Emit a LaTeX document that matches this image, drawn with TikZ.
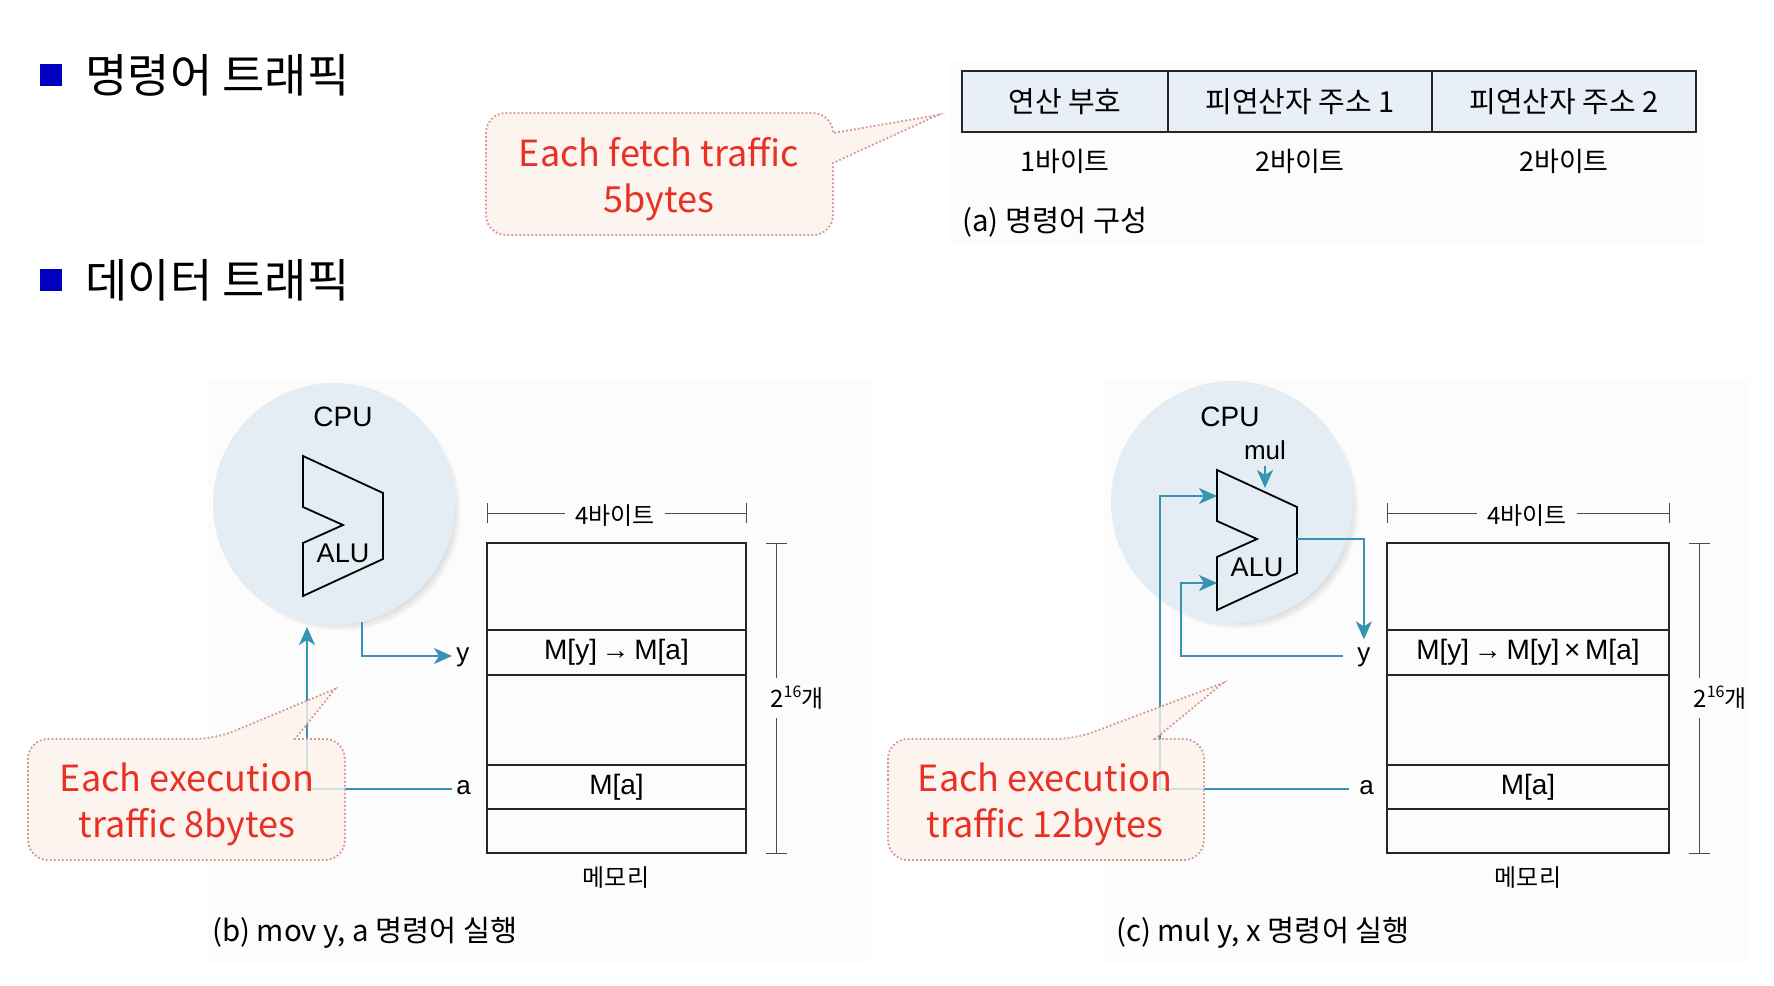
\documentclass[tikz,border=0pt]{standalone}
\usepackage{fontspec}
\setmainfont{Noto Sans CJK KR}
\newfontfamily\hv{Liberation Sans}
\usetikzlibrary{arrows.meta,shadows,calc}

\definecolor{bulletblue}{RGB}{0,0,190}
\definecolor{callred}{RGB}{233,48,36}
\definecolor{callfill}{RGB}{252,242,234}
\definecolor{calldot}{RGB}{213,150,150}
\definecolor{flowteal}{RGB}{55,147,180}
\definecolor{cellfill}{RGB}{232,239,246}
\definecolor{cpufill}{RGB}{228,237,243}
\definecolor{panelbg}{RGB}{252,252,252}

\tikzset{
  bulletsq/.style={fill=bulletblue, minimum size=11pt, inner sep=0pt},
  header/.style={anchor=west, font=\fontsize{23}{27}\selectfont, inner sep=0pt},
  cell/.style={draw=black!85, line width=0.9pt, fill=cellfill, minimum height=30.5pt, inner sep=0pt, font=\fontsize{14.5}{16}\selectfont},
  figtxt/.style={font=\fontsize{13.5}{15}\selectfont, inner sep=1pt},
  smalltxt/.style={font=\fontsize{12}{14}\selectfont, inner sep=1pt},
  captxt/.style={font=\fontsize{14.7}{17}\selectfont, inner sep=0pt},
  callshape/.style={draw=calldot, fill=callfill, line width=0.9pt, dash pattern=on 0.9pt off 1.1pt, fill opacity=0.8},
  calltxt/.style={text=callred, align=center, font=\fontsize{18}{23}\selectfont},
  cpu/.style={circle, fill=cpufill, minimum size=121pt, inner sep=0pt,
    circular drop shadow={shadow xshift=3pt, shadow yshift=-3pt, shadow scale=1.0, opacity=0.5}},
  latin/.style={font=\hv\fontsize{13}{15}\selectfont, inner sep=0pt},
  flow/.style={draw=flowteal, line width=1pt, -{Stealth[length=9pt, width=8pt, inset=2.5pt]}},
  memrow/.style={draw=black!85, line width=1pt, inner sep=0pt, font=\hv\fontsize{14}{16}\selectfont},
  dim/.style={draw=black!70, line width=0.5pt},
  lbl/.style={font=\hv\fontsize{13}{15}\selectfont, anchor=west, inner sep=2pt, text height=0.52em, text depth=0pt},
  alu/.pic={
    \draw[line width=0.9pt, line join=miter] (0,0) coordinate (-tl) -- (80,37) -- (80,103) -- (0,140) -- (0,87) -- (40,69) -- (0,51) -- cycle;
    \coordinate (-in1) at (0,26);
    \coordinate (-in2) at (0,113);
    \coordinate (-out) at (80,69);
    \coordinate (-top) at (48,18);
    \node[font=\hv\fontsize{13.5}{15}\selectfont, inner sep=0pt] (-lbl) at (40,97) {ALU};
  },
}

\begin{document}
\begin{tikzpicture}[x=0.5pt,y=-0.5pt]
\useasboundingbox[fill=white] (0,0) rectangle (1774,986);

% faint image panels
\fill[panelbg] (950,62) rectangle (1705,243);
\fill[panelbg] (207,379) rectangle (871,962);
\fill[panelbg] (1103,379) rectangle (1748,962);

% headers
\node[bulletsq] (sq1) at (51,75) {};
\node[header] (h1) at (85,75) {명령어 트래픽};
\node[bulletsq] (sq2) at (51,280) {};
\node[header] (h2) at (85,280) {데이터 트래픽};

% (a) instruction format
\node[cell, minimum width=103pt] (opc) at (1065,101.5) {연산 부호};
\node[cell, minimum width=132pt] (ad1) at (1300,101.5) {피연산자 주소 1};
\node[cell, minimum width=132pt] (ad2) at (1564,101.5) {피연산자 주소 2};
\node[figtxt] (by1) at (1065,161) {1바이트};
\node[figtxt] (by2) at (1300,161) {2바이트};
\node[figtxt] (by3) at (1564,161) {2바이트};
\node[captxt, anchor=west] (capa) at (962,222) {(a) 명령어 구성};

% callout 1
\path[callshape] (486,174) [rounded corners=10pt] -- (486,113) -- (833,113) [sharp corners] -- (833,133) -- (938,115) -- (833,163) [rounded corners=10pt] -- (833,235) -- (486,235) -- cycle;
\node[calltxt] (t1) at (659,179) {Each fetch traffic\\5bytes};

% ---------------- (b) ----------------
\node[cpu] (cpuB) at (334,504) {};
\node[latin, font=\hv\fontsize{14}{16}\selectfont] (cpuBl) at (343,417) {CPU};
\pic (aluB) at (303,456) {alu};

\node[memrow, minimum width=129.5pt, minimum height=43.5pt] (mB1) at (616.5,586.5) {};
\node[memrow, minimum width=129.5pt, minimum height=22.5pt] (mB2) at (616.5,652.5) {M[y]\,→\,M[a]};
\node[memrow, minimum width=129.5pt, minimum height=45pt] (mB3) at (616.5,720) {};
\node[memrow, minimum width=129.5pt, minimum height=22pt] (mB4) at (616.5,787) {M[a]};
\node[memrow, minimum width=129.5pt, minimum height=22pt] (mB5) at (616.5,831) {};

\node[smalltxt, inner xsep=5pt] (wB) at (615,516) {4바이트};
\coordinate (wBl) at (487,513);
\coordinate (wBr) at (746,513);
\draw[dim] (wBl) -- (wBl -| wB.west) (wBr -| wB.east) -- (wBr);
\draw[dim] ($(wBl)+(0,-10)$) -- ($(wBl)+(0,10)$);
\draw[dim] ($(wBr)+(0,-10)$) -- ($(wBr)+(0,10)$);

\node[smalltxt, inner ysep=4pt] (nB) at (797,698) {2\raisebox{0.75ex}{\fontsize{8}{9}\selectfont 16}개};
\coordinate (hBt) at (776,543);
\coordinate (hBb) at (776,853);
\draw[dim] (hBt) -- (hBt |- nB.north) (hBb) -- (hBb |- nB.south);
\draw[dim] ($(hBt)+(-10,0)$) -- ($(hBt)+(11,0)$);
\draw[dim] ($(hBb)+(-10,0)$) -- ($(hBb)+(11,0)$);
\node[smalltxt] (memB) at (616,878) {메모리};

\node[lbl] (yB) at (452,656) {y};
\node[lbl] (aB) at (452,789) {a};
\coordinate (outB) at (362,622);
\coordinate (inB) at (307,627);
\draw[flow] (outB) |- (yB.west);
\draw[flow] (aB.west) -| (inB);

\path[callshape] (28,800) [rounded corners=10pt] -- (28,739) -- (215,739) [sharp corners] -- (335,689) -- (295,739) [rounded corners=10pt] -- (345,739) -- (345,860) -- (28,860) -- cycle;
\node[calltxt] (t2) at (187,804) {Each execution\\traffic 8bytes};

\node[captxt] (capb) at (365,933) {(b) mov y, a 명령어 실행};

% ---------------- (c) ----------------
\node[cpu] (cpuC) at (1232,502) {};
\node[latin, font=\hv\fontsize{14}{16}\selectfont] (cpuCl) at (1230,417) {CPU};
\node[latin, inner ysep=3pt] (mul) at (1265,450) {mul};
\pic (aluC) at (1217,470) {alu};

\node[memrow, minimum width=141pt, minimum height=43.5pt] (mC1) at (1528,586.5) {};
\node[memrow, minimum width=141pt, minimum height=22.5pt] (mC2) at (1528,652.5) {M[y]\,→\,M[y]\,×\,M[a]};
\node[memrow, minimum width=141pt, minimum height=45pt] (mC3) at (1528,720) {};
\node[memrow, minimum width=141pt, minimum height=22pt] (mC4) at (1528,787) {M[a]};
\node[memrow, minimum width=141pt, minimum height=22pt] (mC5) at (1528,831) {};

\node[smalltxt, inner xsep=5pt] (wC) at (1527,516) {4바이트};
\coordinate (wCl) at (1387,513);
\coordinate (wCr) at (1669,513);
\draw[dim] (wCl) -- (wCl -| wC.west) (wCr -| wC.east) -- (wCr);
\draw[dim] ($(wCl)+(0,-10)$) -- ($(wCl)+(0,10)$);
\draw[dim] ($(wCr)+(0,-10)$) -- ($(wCr)+(0,10)$);

\node[smalltxt, inner ysep=4pt] (nC) at (1720,698) {2\raisebox{0.75ex}{\fontsize{8}{9}\selectfont 16}개};
\coordinate (hCt) at (1699,543);
\coordinate (hCb) at (1699,853);
\draw[dim] (hCt) -- (hCt |- nC.north) (hCb) -- (hCb |- nC.south);
\draw[dim] ($(hCt)+(-10,0)$) -- ($(hCt)+(11,0)$);
\draw[dim] ($(hCb)+(-10,0)$) -- ($(hCb)+(11,0)$);
\node[smalltxt] (memC) at (1528,878) {메모리};

\node[lbl, inner xsep=7pt] (yC) at (1343,656) {y};
\node[lbl, inner xsep=5pt] (aC) at (1349,789) {a};
\coordinate (ytipC) at ($(yC.north)+(0,-7)$);
\coordinate (cnrC1) at (1160,496);
\coordinate (cnrC2) at (1181,583);
\draw[flow] (aluC-out) -| (ytipC);
\draw[flow] (aC.west) -| (cnrC1) -- (aluC-in1);
\draw[flow] (yC.west) -| (cnrC2) -- (aluC-in2);
\draw[flow] (mul.south) -- (aluC-top);

\path[callshape] (888,800) [rounded corners=10pt] -- (888,739) -- (1075,739) [sharp corners] -- (1223,683) -- (1155,739) [rounded corners=10pt] -- (1204,739) -- (1204,860) -- (888,860) -- cycle;
\node[calltxt] (t3) at (1045,804) {Each execution\\traffic 12bytes};

\node[captxt] (capc) at (1263,933) {(c) mul y, x 명령어 실행};
\end{tikzpicture}
\end{document}
